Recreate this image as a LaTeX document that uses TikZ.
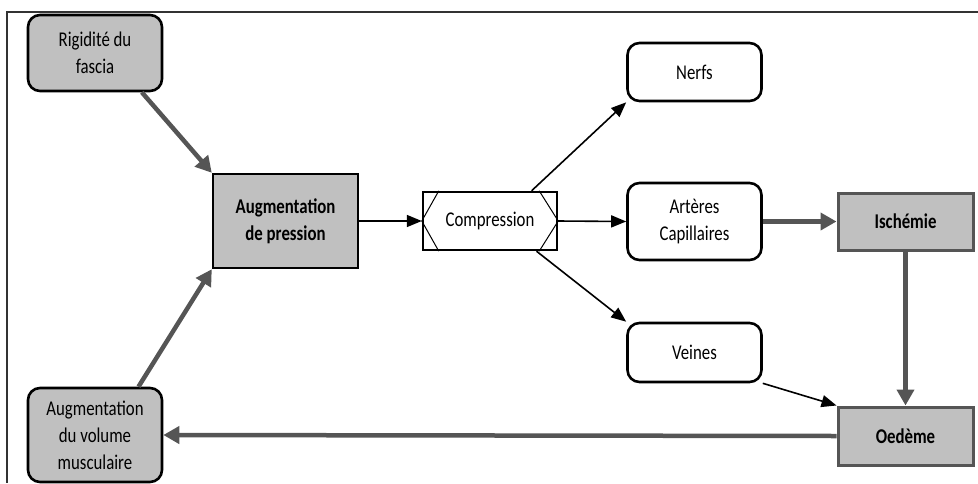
\documentclass[tikz,border=0pt]{standalone}
\usepackage{fontspec}
\setmainfont{Carlito}[FakeStretch=0.8]
\usetikzlibrary{arrows.meta}

\definecolor{boxgray}{RGB}{192,192,192}
\definecolor{linegray}{RGB}{85,85,85}

\tikzset{
    roundbox/.style = {rectangle, rounded corners = 12pt, draw, line width = 2.6pt,
                       align = center, minimum width = 134pt, inner sep = 2pt},
    squarebox/.style = {rectangle, draw, line width = 2pt, align = center, inner sep = 2pt},
    thick arrow/.style = {-{Triangle[length=16pt,width=17pt]}, line width = 4.5pt, draw = linegray},
    thin arrow/.style = {-{Triangle[length=15pt,width=12pt]}, line width = 1.6pt}
}

\begin{document}
\begin{tikzpicture}[x=1pt, y=-1pt, font=\fontsize{21}{27}\selectfont]

    \useasboundingbox (0,0) rectangle (978,483);
    \draw[line width = 1.5pt, black!80] (978,12) -- (7,12) -- (7,483);

    \node[roundbox,
          fill = boxgray,
          minimum height = 76pt
          ] (rig) at (95,53) {Rigidité du\\fascia};

    \node[roundbox,
          fill = boxgray,
          minimum height = 94pt
          ] (vol) at (95,435) {Augmentation\\du volume\\musculaire};

    \node[squarebox,
          fill = boxgray,
          line width = 2.4pt,
          minimum width = 145pt,
          minimum height = 94pt,
          font = \fontsize{21}{27}\selectfont\bfseries
          ] (pres) at (285.5,221) {Augmentation\\de pression};

    \node[squarebox,
          line width = 2.4pt,
          minimum width = 134pt,
          minimum height = 58pt
          ] (comp) at (490,221) {Compression};
    % chevrons inside the compression box
    \draw[line width = 1pt] ([xshift=17pt]comp.north west) -- (comp.west) -- ([xshift=17pt]comp.south west);
    \draw[line width = 1pt] ([xshift=-19pt]comp.north east) -- (comp.east) -- ([xshift=-19pt]comp.south east);

    \node[roundbox,
          minimum height = 58pt
          ] (nerf) at (694.5,72) {Nerfs};

    \node[roundbox,
          minimum height = 77pt
          ] (art) at (694.5,221.5) {Artères\\Capillaires};

    \node[roundbox,
          minimum height = 59pt
          ] (vein) at (694.5,352.5) {Veines};

    \node[squarebox,
          fill = boxgray,
          draw = linegray,
          line width = 3pt,
          minimum width = 135pt,
          minimum height = 57pt,
          font = \fontsize{21}{27}\selectfont\bfseries
          ] (isch) at (905.5,221.5) {Ischémie};

    \node[squarebox,
          fill = boxgray,
          draw = linegray,
          line width = 3pt,
          minimum width = 135pt,
          minimum height = 58pt,
          font = \fontsize{21}{27}\selectfont\bfseries
          ] (oed) at (905.5,436) {Oedème};

    \path
    %gray loop
    (rig.-40) edge [thick arrow] (pres.north west)
    (vol.48) edge [thick arrow] (pres.south west)
    (art.east) edge [thick arrow] (isch.west)
    (isch.south) edge [thick arrow] (oed.north)
    (oed.west) edge [thick arrow] (vol.east)
    %compression paths
    (pres.east) edge [thin arrow] (comp.west)
    (comp.36) edge [thin arrow] (nerf.south west)
    (comp.east) edge [thin arrow] (art.west)
    (comp.-33) edge [thin arrow] (vein.north west)
    (vein.south east) edge [thin arrow] (oed.north west);

\end{tikzpicture}
\end{document}
